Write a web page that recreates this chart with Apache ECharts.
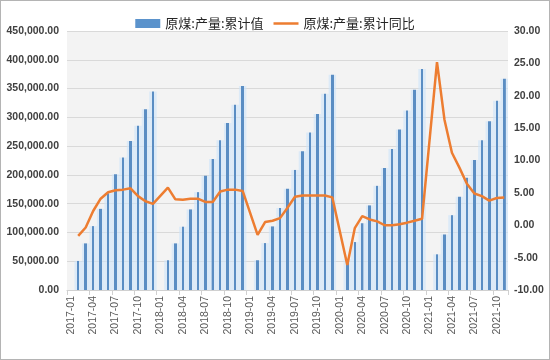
<!DOCTYPE html>
<html>
<head>
<meta charset="utf-8">
<script src="https://cdn.jsdelivr.net/npm/echarts@6/dist/echarts.min.js"></script>
<style>
html,body{margin:0;padding:0;background:#fff;}
#c{width:550px;height:360px;box-sizing:border-box;border:1px solid #b4b4b4;}
</style>
</head>
<body>
<div id="c"></div>
<script>
// Categories: 2017-01 .. 2021-11
const years = [2017, 2018, 2019, 2020, 2021];
const categories = [];
years.forEach(y => { for (let m = 1; m <= 12; m++) { if (y === 2021 && m > 11) break; categories.push(y + '-' + (m < 10 ? '0' + m : m)); } });

// 原煤:产量:累计值 (January not published -> null)
const output2017 = [null, 50500, 81000, 111000, 141000, 168000, 201000, 230000, 259000, 285500, 314000, 345000];
const output2018 = [null, 51700, 81000, 110000, 140000, 170000, 198500, 227500, 260000, 290000, 322000, 354500];
const output2019 = [null, 51700, 81500, 110500, 142500, 176000, 208600, 241000, 273600, 306000, 341000, 374000];
const output2020 = [null, 53500, 83300, 116000, 147000, 181000, 212000, 245000, 279000, 312000, 348000, 384000];
const output2021 = [null, 62000, 96500, 130000, 162000, 195000, 226000, 260000, 293000, 329000, 367000];

// 原煤:产量:累计同比 (%)
const yoy2017 = [null, -1.65, -0.35, 2.2, 4.1, 5.1, 5.4, 5.5, 5.7, 4.5, 3.7, 3.3];
const yoy2018 = [null, 5.8, 4.0, 3.95, 4.1, 4.1, 3.6, 3.6, 5.2, 5.5, 5.5, 5.3];
const yoy2019 = [null, -1.5, 0.5, 0.7, 1.1, 2.7, 4.4, 4.6, 4.6, 4.6, 4.6, 4.3];
const yoy2020 = [null, -6.15, -0.45, 1.4, 0.9, 0.6, 0.0, 0.0, 0.15, 0.4, 0.7, 1.0];
const yoy2021 = [null, 25.2, 16.3, 11.2, 8.9, 6.4, 4.9, 4.5, 3.8, 4.2, 4.3];

const outputValues = [].concat(output2017, output2018, output2019, output2020, output2021);
const yoyValues = [].concat(yoy2017, yoy2018, yoy2019, yoy2020, yoy2021);

const seriesNames = ['原煤:产量:累计值', '原煤:产量:累计同比'];

function fmtThousands(v) {
  const s = Math.abs(v).toFixed(2).split('.');
  s[0] = s[0].replace(/\B(?=(\d{3})+(?!\d))/g, ',');
  return (v < 0 ? '-' : '') + s.join('.');
}

const chart = echarts.init(document.getElementById('c'));
const barFill = new echarts.graphic.LinearGradient(0, 0, 1, 0, [
  {offset: 0, color: 'rgba(205,228,250,0.6)'},
  {offset: 0.33, color: 'rgba(205,228,250,0.6)'},
  {offset: 0.335, color: '#5a8dc3'},
  {offset: 0.665, color: '#5a8dc3'},
  {offset: 0.67, color: 'rgba(205,228,250,0.6)'},
  {offset: 1, color: 'rgba(205,228,250,0.6)'}
]);

chart.setOption({
  animation: false,
  backgroundColor: '#ffffff',
  textStyle: {fontFamily: '"Liberation Sans", Arial, "Noto Sans CJK SC", sans-serif'},
  legend: {
    top: 11,
    left: 'center',
    itemGap: 10,
    itemWidth: 25,
    itemHeight: 9,
    symbolKeepAspect: true,
    textStyle: {fontSize: 13, color: '#262626', fontFamily: '"Noto Sans CJK SC", sans-serif'},
    data: [
      {name: seriesNames[0], icon: 'rect', itemStyle: {color: '#5b93cc'}},
      {name: seriesNames[1], icon: 'path://M0,0 L50,0 L50,5 L0,5 Z', itemStyle: {color: '#ed7d31'}}
    ]
  },
  grid: {
    left: 66, right: 41, top: 30, bottom: 69,
    show: true, backgroundColor: '#f3f3f3', borderWidth: 0
  },
  xAxis: {
    type: 'category',
    data: categories,
    boundaryGap: true,
    axisLine: {lineStyle: {color: '#d0d0d0'}},
    axisTick: {show: true, interval: 2, length: 5, lineStyle: {color: '#d0d0d0'}},
    axisLabel: {interval: 2, rotate: 90, fontSize: 10.5, color: '#595959', margin: 6}
  },
  yAxis: [
    {
      type: 'value', min: 0, max: 450000, interval: 50000,
      axisLine: {show: false}, axisTick: {show: false},
      splitLine: {lineStyle: {color: '#d9d9d9'}},
      axisLabel: {fontSize: 10.5, fontWeight: 'bold', color: '#404040', margin: 8, formatter: fmtThousands}
    },
    {
      type: 'value', min: -10, max: 30, interval: 5,
      axisLine: {show: false}, axisTick: {show: false},
      splitLine: {show: false},
      axisLabel: {fontSize: 10.5, fontWeight: 'bold', color: '#404040', margin: 6, formatter: v => v.toFixed(2)}
    }
  ],
  series: [
    {
      name: seriesNames[0],
      type: 'bar',
      yAxisIndex: 0,
      data: outputValues,
      barWidth: '100%',
      barCategoryGap: '0%',
      itemStyle: {color: barFill}
    },
    {
      name: seriesNames[1],
      type: 'line',
      yAxisIndex: 1,
      data: yoyValues,
      connectNulls: true,
      symbol: 'none',
      lineStyle: {color: '#ed7d31', width: 2.5},
      itemStyle: {color: '#ed7d31'}
    }
  ]
});
</script>
</body>
</html>
